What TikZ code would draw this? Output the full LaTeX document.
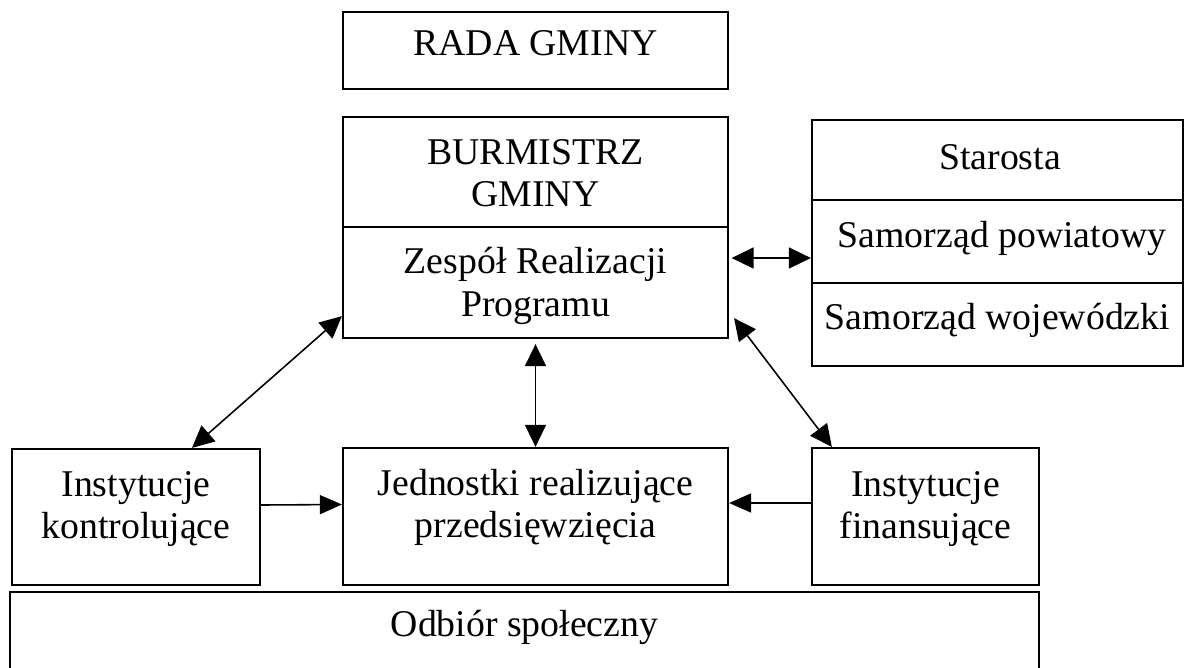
\documentclass[tikz,border=0pt]{standalone}
\usepackage{fontspec}
\setmainfont{Liberation Serif}
\usetikzlibrary{arrows.meta}

\tikzset{
	box/.style={draw, rectangle, line width=1.3pt, inner sep=0pt},
	boxtext/.style={text centered, align=center, font=\fontsize{21.5}{24}\selectfont},
	link/.style={line width=0.9pt, {Triangle[length=0.44cm,width=0.42cm]}-{Triangle[length=0.44cm,width=0.42cm]}},
	onelink/.style={line width=0.9pt, -{Triangle[length=0.44cm,width=0.38cm]}}
}

\begin{document}
\begin{tikzpicture}[x=0.02cm, y=-0.02cm]
			
			\useasboundingbox (0,0) rectangle (1187,667);
			
			%Top block
			\node (Rada Gminy) at (535.5,50.5) [box, minimum height=1.54cm, minimum width=7.7cm]{};
			\node (Rada text) at (535.5,43) [boxtext]{RADA GMINY};
			
			%Middle block
			\node (Burmistrz) at (535.5,172) [box, minimum height=2.2cm, minimum width=7.7cm]{};
			\node (Burmistrz text) at (535.5,173) [boxtext]{BURMISTRZ\\GMINY};
			\node (Zespol) at (535.5,282.5) [box, minimum height=2.22cm, minimum width=7.7cm]{};
			\node (Zespol text) at (535.5,286) [boxtext]{Zespół Realizacji\\Programu};
			
			%Right block
			\node (Starosta) at (997.5,160) [box, minimum height=1.6cm, minimum width=7.42cm]{};
			\node (Starosta text) at (1000,157) [boxtext]{Starosta};
			\node (Powiat) at (997.5,241.5) [box, minimum height=1.66cm, minimum width=7.42cm]{};
			\node (Powiat text) at (1002,238) [boxtext]{Samorząd powiatowy};
			\node (Wojewodztwo) at (997.5,324.5) [box, minimum height=1.66cm, minimum width=7.42cm]{};
			\node (Wojewodztwo text) at (997.5,320) [boxtext]{Samorząd wojewódzki};
			
			%Bottom row
			\node (Kontrola) at (136,517) [box, minimum height=2.72cm, minimum width=4.96cm]{};
			\node (Kontrola text) at (136,509) [boxtext]{Instytucje\\kontrolujące};
			\node (Jednostki) at (535.5,516.5) [box, minimum height=2.74cm, minimum width=7.7cm]{};
			\node (Jednostki text) at (535.5,507) [boxtext]{Jednostki realizujące\\przedsięwzięcia};
			\node (Finanse) at (925.5,516.5) [box, minimum height=2.74cm, minimum width=4.54cm]{};
			\node (Finanse text) at (925.5,509) [boxtext]{Instytucje\\finansujące};
			
			%Footer
			\node (Odbior) at (524.5,632) [box, minimum height=1.6cm, minimum width=20.58cm]{};
			\node (Odbior text) at (524.5,627) [boxtext]{Odbiór społeczny};
			
			%Arrows
			\draw[link] ([xshift=0.05cm,yshift=0.49cm]Zespol.east) -- ([yshift=-0.33cm]Powiat.west);
			\draw[link] ([yshift=0.46cm]Zespol.south west) -- ([xshift=1.12cm]Kontrola.north);
			\draw[link, shorten <=0.1cm] (Zespol.south) -- (Jednostki.north);
			\draw[link] ([xshift=0.1cm,yshift=0.42cm]Zespol.south east) -- ([xshift=0.42cm]Finanse.north west);
			\draw[onelink] ([yshift=0.24cm]Kontrola.east) -- ([yshift=0.24cm]Jednostki.west);
			\draw[onelink] ([yshift=0.27cm]Finanse.west) -- ([yshift=0.27cm]Jednostki.east);
			
\end{tikzpicture}
\end{document}
